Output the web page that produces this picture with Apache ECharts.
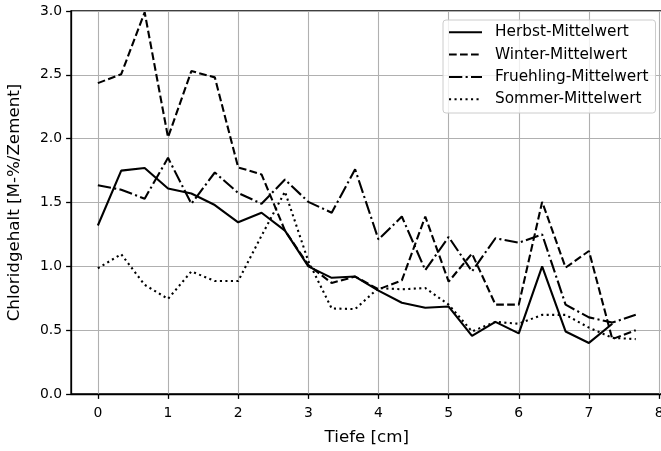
<!DOCTYPE html>
<html>
<head>
<meta charset="utf-8">
<title>Chloridgehalt</title>
<script src="https://cdn.jsdelivr.net/npm/echarts@6/dist/echarts.min.js"></script>
<style>
    html, body { margin: 0; padding: 0; background: #fff; }
    #chart-container { width: 661px; height: 451px; }
</style>
</head>
<body>
<div id="chart-container"></div>
<script>
// 深度 (x)
const depth = [0, 0.333, 0.667, 1, 1.333, 1.667, 2, 2.333, 2.667, 3, 3.333, 3.667,
    4, 4.333, 4.667, 5, 5.333, 5.667, 6, 6.333, 6.667, 7, 7.333, 7.667];

// 各季节平均值
const herbst = [1.32, 1.75, 1.77, 1.61, 1.57, 1.48, 1.345, 1.42, 1.28, 1.00, 0.91, 0.92,
    0.81, 0.715, 0.675, 0.685, 0.455, 0.565, 0.475, 1.00, 0.49, 0.40, 0.55, null];
const winter = [2.435, 2.505, 2.99, 2.01, 2.53, 2.48, 1.775, 1.72, 1.28, 1.01, 0.87, 0.92,
    0.82, 0.89, 1.39, 0.88, 1.10, 0.70, 0.70, 1.505, 0.99, 1.12, 0.43, 0.50];
const fruehling = [1.635, 1.60, 1.53, 1.85, 1.49, 1.735, 1.575, 1.49, 1.68, 1.505, 1.42, 1.76,
    1.21, 1.39, 0.97, 1.23, 0.96, 1.22, 1.185, 1.25, 0.70, 0.60, 0.56, 0.62];
const sommer = [0.985, 1.095, 0.855, 0.745, 0.96, 0.885, 0.885, 1.24, 1.585, 1.04, 0.67, 0.665,
    0.83, 0.82, 0.83, 0.70, 0.49, 0.565, 0.55, 0.62, 0.62, 0.52, 0.44, 0.43];

// 刻度
const xTicks = [0, 1, 2, 3, 4, 5, 6, 7, 8];
const names = ['Herbst-Mittelwert', 'Winter-Mittelwert', 'Fruehling-Mittelwert', 'Sommer-Mittelwert'];

document.addEventListener('DOMContentLoaded', () => {
    const font = 'DejaVu Sans';
    const tickFs = 13.9;   // 刻度标签
    const labelFs = 16.7;  // 坐标轴名称
    const legendFs = 15.3; // 图例
    const toPairs = (ys) => depth.map((x, i) => [x, ys[i]]);

    // 线型 (matplotlib 默认样式)
    const dashes = {
        solid: 'solid',
        dashed: [7.7, 3.3],
        dashdot: [13.3, 3.3, 2.1, 3.3],
        dotted: [2.1, 3.4]
    };

    const makeSeries = (name, ys, dash) => ({
        name: name,
        type: 'line',
        data: toPairs(ys),
        symbol: 'none',
        connectNulls: false,
        lineStyle: { color: '#000', width: 2.1, type: dash, cap: 'butt' },
        itemStyle: { color: '#000' },
        emphasis: { disabled: true }
    });

    const axisLineStyle = { color: '#000', width: 1.3 };
    const gridLineStyle = { color: '#b0b0b0', width: 1.1 };

    const chartConfig = {
        animation: false,
        backgroundColor: '#fff',
        textStyle: { fontFamily: font },
        grid: {
            left: 71, top: 11, width: 591.6, height: 383,
            outerBoundsMode: 'none',
            containLabel: false,
            show: true, borderColor: '#000', borderWidth: 1.3, backgroundColor: 'transparent'
        },
        legend: {
            orient: 'vertical',
            left: 443, top: 20,
            data: names,
            itemWidth: 33, itemHeight: 17, itemGap: 5.3,
            padding: [3.8, 7, 5.3, 5],
            backgroundColor: 'rgba(255,255,255,0.8)',
            borderColor: '#cccccc', borderWidth: 1, borderRadius: 3,
            itemStyle: { color: 'rgba(0,0,0,0)', borderWidth: 0, opacity: 0 },
            textStyle: { fontFamily: font, fontSize: legendFs, color: '#000', padding: [0, 0, 0, 8], lineHeight: 17 }
        },
        xAxis: {
            type: 'value',
            min: -0.383, max: 8.05,
            name: 'Tiefe [cm]',
            nameLocation: 'middle',
            nameGap: 35,
            nameTextStyle: { fontFamily: font, fontSize: labelFs, color: '#000' },
            axisLine: { onZero: false, lineStyle: axisLineStyle },
            axisTick: { show: true, length: 4.9, customValues: xTicks, lineStyle: axisLineStyle },
            axisLabel: { customValues: xTicks, margin: 12, fontFamily: font, fontSize: tickFs, color: '#000' },
            splitLine: { show: true, lineStyle: gridLineStyle }
        },
        yAxis: {
            type: 'value',
            min: 0, max: 3, interval: 0.5,
            name: 'Chloridgehalt [M-%/Zement]',
            nameLocation: 'middle',
            nameGap: 48,
            nameTextStyle: { fontFamily: font, fontSize: labelFs, color: '#000' },
            axisLine: { show: true, onZero: false, lineStyle: axisLineStyle },
            axisTick: { show: true, length: 4.9, lineStyle: axisLineStyle },
            axisLabel: { margin: 9, fontFamily: font, fontSize: tickFs, color: '#000', formatter: (v) => v.toFixed(1) },
            splitLine: { show: true, lineStyle: gridLineStyle }
        },
        series: [
            makeSeries(names[0], herbst, dashes.solid),
            makeSeries(names[1], winter, dashes.dashed),
            makeSeries(names[2], fruehling, dashes.dashdot),
            makeSeries(names[3], sommer, dashes.dotted)
        ]
    };

    const myChart = echarts.init(document.getElementById('chart-container'), null, { renderer: 'canvas' });
    myChart.setOption(chartConfig);
    window.addEventListener('resize', () => myChart.resize());
});
</script>
</body>
</html>
